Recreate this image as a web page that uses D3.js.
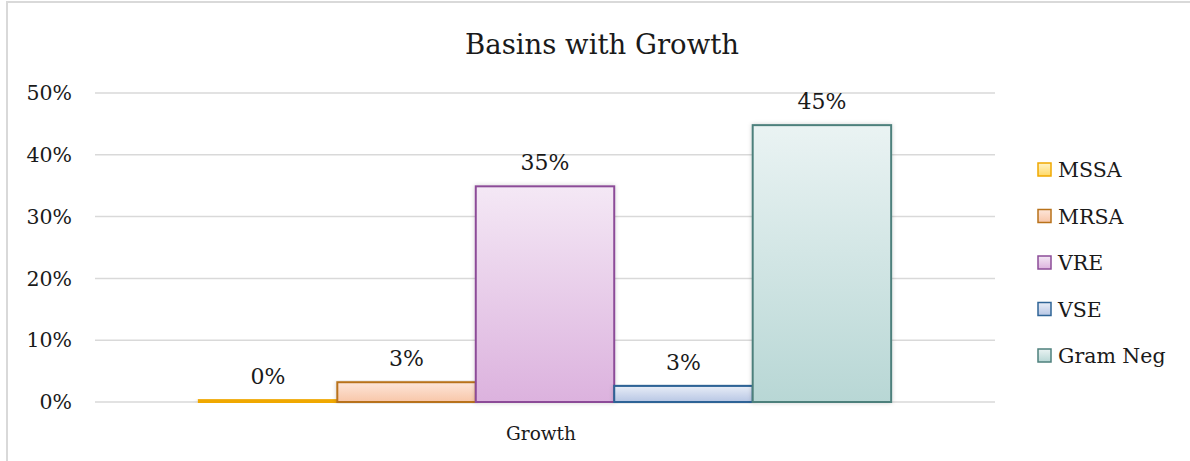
<!DOCTYPE html>
<html>
<head>
<meta charset="utf-8">
<script src="https://cdn.jsdelivr.net/npm/d3@7"></script>
<style>
  body { margin: 0; background: #fff; }
  text { font-family: "DejaVu Serif", "Liberation Serif", serif; fill: #1a1a1a; }
</style>
</head>
<body>
<div id="chart"></div>
<script>
var title = 'Basins with Growth';
var category = ['Growth'];
var seriesNames = ['MSSA', 'MRSA', 'VRE', 'VSE', 'Gram Neg'];
var seriesValues = [0.003, 0.032, 0.349, 0.026, 0.448];
var yTicks = [0, 0.1, 0.2, 0.3, 0.4, 0.5];

// fill gradient top/bottom and stroke, per series
var gradTop = ['#fff3c8', '#fde6da', '#f4e8f5', '#e8edf7', '#eaf3f3'];
var gradBottom = ['#ffd966', '#f8c6a8', '#dcb2de', '#b7c6e4', '#b8d7d5'];
var strokes = ['#f0a800', '#b8721a', '#8c4c98', '#2f6496', '#4e807c'];

var width = 1190, height = 461;
var margin = {top: 93, left: 95, right: 195, bottom: 59};

var svg = d3.select('#chart')
    .append('svg')
    .attr('width', width)
    .attr('height', height);

var defs = svg.append('defs');
seriesNames.forEach(function(s, i) {
    var g = defs.append('linearGradient')
        .attr('id', 'grad' + i)
        .attr('x1', 0).attr('y1', 0).attr('x2', 0).attr('y2', 1);
    g.append('stop').attr('offset', '0%').attr('stop-color', gradTop[i]);
    g.append('stop').attr('offset', '100%').attr('stop-color', gradBottom[i]);
});
var f = defs.append('filter').attr('id', 'shadow')
    .attr('x', '-10%').attr('y', '-10%').attr('width', '120%').attr('height', '120%');
f.append('feDropShadow').attr('dx', 0).attr('dy', 0).attr('stdDeviation', 2)
    .attr('flood-color', '#000').attr('flood-opacity', 0.18);

// outer frame
svg.append('rect')
    .attr('x', 7).attr('y', 2)
    .attr('width', width).attr('height', height)
    .style('fill', 'none')
    .style('stroke', '#d9d9d9')
    .style('stroke-width', 2);

var x0 = d3.scaleBand()
    .domain(category)
    .range([margin.left, width - margin.right]);

var y = d3.scaleLinear()
    .domain([0, 0.5])
    .range([height - margin.bottom, margin.top]);

// gridlines
svg.append('g')
    .selectAll('line')
    .data(yTicks)
    .enter()
    .append('line')
    .attr('x1', margin.left)
    .attr('x2', width - margin.right)
    .attr('y1', function(d) { return y(d); })
    .attr('y2', function(d) { return y(d); })
    .style('stroke', '#d9d9d9')
    .style('stroke-width', 1.5);

// y axis labels
svg.append('g')
    .selectAll('text')
    .data(yTicks)
    .enter()
    .append('text')
    .attr('x', 72)
    .attr('y', function(d) { return y(d); })
    .attr('dy', '0.35em')
    .attr('text-anchor', 'end')
    .style('font-size', '20.5px')
    .text(d3.format('.0%'));

// bars: gap width 150% like excel
var groupW = x0.bandwidth();
var barW = groupW / (seriesNames.length + 1.5);
var x1 = d3.scaleBand()
    .domain(seriesNames)
    .range([x0(category[0]) + barW * 0.75, x0(category[0]) + groupW - barW * 0.75]);

var bars = svg.append('g');
bars.selectAll('rect')
    .data(seriesValues)
    .enter()
    .append('rect')
    .attr('x', function(d, i) { return x1(seriesNames[i]); })
    .attr('y', function(d) { return y(d); })
    .attr('width', x1.bandwidth())
    .attr('height', function(d) { return y(0) - y(d); })
    .style('fill', function(d, i) { return 'url(#grad' + i + ')'; })
    .style('stroke', function(d, i) { return strokes[i]; })
    .style('stroke-width', 2)
    .attr('filter', 'url(#shadow)');

// value labels
svg.append('g')
    .selectAll('text')
    .data(seriesValues)
    .enter()
    .append('text')
    .attr('x', function(d, i) { return x1(seriesNames[i]) + x1.bandwidth() / 2; })
    .attr('y', function(d) { return y(d) - 16; })
    .attr('text-anchor', 'middle')
    .style('font-size', '22px')
    .text(d3.format('.0%'));

// category label
svg.append('text')
    .attr('x', x0(category[0]) + groupW / 2 - 4)
    .attr('y', 440)
    .attr('text-anchor', 'middle')
    .style('font-size', '18.5px')
    .text(category[0]);

// title
svg.append('text')
    .attr('x', 602)
    .attr('y', 54)
    .attr('text-anchor', 'middle')
    .style('font-size', '27.5px')
    .text(title);

// legend
var legend = svg.append('g')
    .selectAll('g')
    .data(seriesNames)
    .enter()
    .append('g')
    .attr('transform', function(d, i) { return 'translate(1038,' + (163 + i * 46.5) + ')'; });

legend.append('rect')
    .attr('width', 13).attr('height', 13)
    .style('fill', function(d, i) { return 'url(#grad' + i + ')'; })
    .style('stroke', function(d, i) { return strokes[i]; })
    .style('stroke-width', 1.5);

legend.append('text')
    .attr('x', 20)
    .attr('y', 7)
    .attr('dy', '0.35em')
    .style('font-size', '20.5px')
    .text(function(d) { return d; });
</script>
</body>
</html>
